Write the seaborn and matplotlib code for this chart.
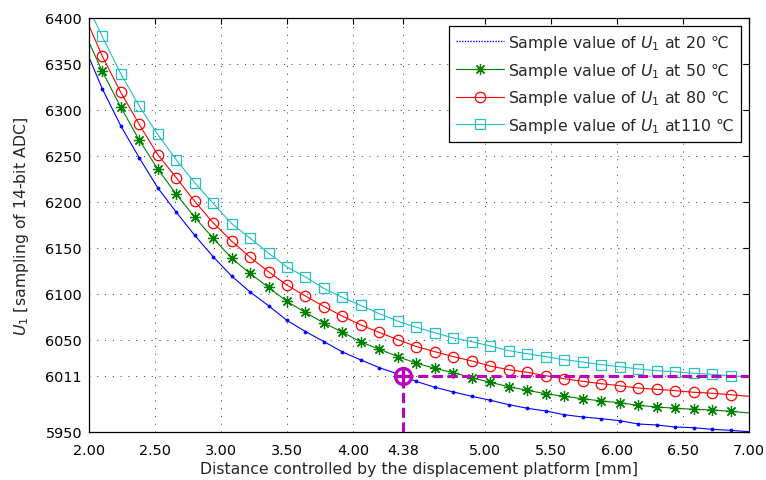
import matplotlib
matplotlib.use("Agg")
import matplotlib.pyplot as plt
import seaborn as sns
from matplotlib.lines import Line2D
from matplotlib.ticker import FormatStrFormatter

# Sample positions of the displacement platform [mm]
distance_mm = [2.10, 2.24, 2.38, 2.52, 2.66, 2.80, 2.94, 3.08, 3.22, 3.36,
               3.50, 3.64, 3.78, 3.92, 4.06, 4.20, 4.34, 4.48, 4.62, 4.76,
               4.90, 5.04, 5.18, 5.32, 5.46, 5.60, 5.74, 5.88, 6.02, 6.16,
               6.30, 6.44, 6.58, 6.72, 6.86]

# ADC readings of U1 at the sample positions
u1_20c = [6323.2, 6283.0, 6248.2, 6215.6, 6189.1, 6163.9, 6140.6, 6119.6, 6102.2, 6087.3,
          6071.2, 6059.2, 6048.2, 6037.0, 6028.3, 6019.9, 6013.0, 6004.9, 5998.6, 5993.5,
          5988.8, 5984.5, 5979.7, 5975.8, 5972.8, 5968.8, 5966.3, 5964.5, 5962.3, 5958.7,
          5957.6, 5955.4, 5954.7, 5952.9, 5951.8]
u1_50c = [6342.1, 6303.3, 6267.4, 6235.9, 6208.7, 6183.5, 6160.7, 6139.1, 6122.3, 6107.1,
          6091.9, 6079.9, 6068.4, 6058.5, 6047.8, 6039.9, 6031.9, 6024.8, 6019.2, 6014.5,
          6009.0, 6004.0, 5999.2, 5995.3, 5991.6, 5988.8, 5986.2, 5983.7, 5981.8, 5979.0,
          5977.2, 5975.8, 5974.7, 5973.9, 5972.5]
u1_80c = [6358.7, 6319.3, 6284.5, 6251.6, 6226.6, 6200.8, 6177.4, 6157.6, 6140.0, 6124.2,
          6109.6, 6097.8, 6086.4, 6075.9, 6066.3, 6058.2, 6050.3, 6042.9, 6037.3, 6031.9,
          6027.2, 6021.7, 6017.7, 6014.9, 6011.2, 6007.9, 6005.1, 6002.5, 6000.3, 5997.8,
          5996.4, 5994.9, 5993.2, 5992.1, 5990.5]
u1_110c = [6380.1, 6339.5, 6304.4, 6273.6, 6246.0, 6221.0, 6198.6, 6176.6, 6160.7, 6144.4,
           6129.4, 6118.5, 6106.0, 6096.2, 6087.5, 6078.6, 6070.4, 6063.9, 6057.9, 6052.2,
           6048.2, 6043.5, 6038.4, 6035.1, 6031.9, 6028.6, 6026.1, 6023.2, 6021.0, 6018.5,
           6016.6, 6015.5, 6013.8, 6012.7, 6011.0]

# Curve values at the ends of the platform travel
edge_distance_mm = [2.00, 7.00]
u1_20c_edges = [6357.3, 5950.3]
u1_50c_edges = [6373.6, 5970.7]
u1_80c_edges = [6391.6, 5988.8]
u1_110c_edges = [6410.0, 6010.0]

# Working point
mark_distance = 4.38
mark_u1 = 6011

x_ticks = [2.00, 2.50, 3.00, 3.50, 4.00, 4.38, 5.00, 5.50, 6.00, 6.50, 7.00]
y_ticks = [5950, 6011, 6050, 6100, 6150, 6200, 6250, 6300, 6350, 6400]

labels = ["Sample value of $U_1$ at 20 \u2103",
          "Sample value of $U_1$ at 50 \u2103",
          "Sample value of $U_1$ at 80 \u2103",
          "Sample value of $U_1$ at110 \u2103"]

sns.set_style("white")
plt.rcParams["font.family"] = ["DejaVu Sans"]
plt.rcParams["mathtext.fontset"] = "dejavusans"

fig = plt.figure(figsize=(7.66, 4.81), dpi=100)
ax = fig.add_axes([0.1162, 0.0998, 0.8616, 0.8607])

c20, c50, c80, c110 = "#0000ff", "#008000", "#ff0000", "#22c0c0"
series = [
    (u1_20c, u1_20c_edges, dict(color=c20, marker=".", markersize=4,
                                markerfacecolor=c20, markeredgecolor=c20)),
    (u1_50c, u1_50c_edges, dict(color=c50, marker=(8, 2, 0), markersize=8,
                                markerfacecolor=c50, markeredgecolor=c50,
                                markeredgewidth=0.9)),
    (u1_80c, u1_80c_edges, dict(color=c80, marker="o", markersize=7.5,
                                markerfacecolor="none", markeredgecolor=c80,
                                markeredgewidth=0.9)),
    (u1_110c, u1_110c_edges, dict(color=c110, marker="s", markersize=6.8,
                                  markerfacecolor="none", markeredgecolor=c110,
                                  markeredgewidth=0.9)),
]

n = len(distance_mm)
for values, edges, style in series:
    xs = [edge_distance_mm[0]] + distance_mm + [edge_distance_mm[1]]
    ys = [edges[0]] + values + [edges[1]]
    sns.lineplot(x=xs, y=ys, ax=ax, linewidth=0.8, markevery=list(range(1, n + 1)),
                 **style)

# Working-point guides
mag = "#c000c0"
ax.plot([mark_distance, edge_distance_mm[1]], [mark_u1, mark_u1], color=mag,
        linewidth=2.2, dashes=(3.3, 1.5), zorder=4)
ax.plot([mark_distance, mark_distance], [y_ticks[0], mark_u1], color=mag,
        linewidth=2.2, dashes=(3.3, 1.5), zorder=4)
ax.plot([mark_distance], [mark_u1], marker="o", markersize=11.5, markerfacecolor="white",
        markeredgecolor=mag, markeredgewidth=2.3, zorder=5)
ax.plot([mark_distance], [mark_u1], marker="+", markersize=11.5,
        markeredgecolor=mag, markeredgewidth=2.3, zorder=6)

ax.set_xlim(2.0, 7.0)
ax.set_ylim(5950, 6400)
ax.set_xticks(x_ticks)
ax.set_yticks(y_ticks)
ax.xaxis.set_major_formatter(FormatStrFormatter("%.2f"))
ax.tick_params(direction="in", length=4, width=0.8, top=True, right=True,
               labelsize=10.4, colors="black")
ax.tick_params(axis="x", pad=8)
ax.tick_params(axis="y", pad=5)
ax.grid(True, linestyle=(0, (1, 7)), linewidth=0.7, color="#303030")
for s in ax.spines.values():
    s.set_color("black")
    s.set_linewidth(0.9)

ax.set_xlabel("Distance controlled by the displacement platform [mm]", fontsize=11.3,
              labelpad=3)
ax.set_ylabel("$U_1$ [sampling of 14-bit ADC]", fontsize=11.3, labelpad=10)

handles = [
    Line2D([], [], color=c20, linewidth=1.0, linestyle=(0, (1, 1))),
    Line2D([], [], color=c50, linewidth=0.8, marker=(8, 2, 0), markersize=8,
           markeredgecolor=c50, markeredgewidth=0.9),
    Line2D([], [], color=c80, linewidth=0.8, marker="o", markersize=7.5,
           markerfacecolor="none", markeredgecolor=c80, markeredgewidth=0.9),
    Line2D([], [], color=c110, linewidth=0.8, marker="s", markersize=6.8,
           markerfacecolor="none", markeredgecolor=c110, markeredgewidth=0.9),
]
leg = ax.legend(handles, labels, loc="upper right", fontsize=11.3, frameon=True,
                fancybox=False, edgecolor="black", framealpha=1, handlelength=3.0,
                handletextpad=0.3, labelspacing=0.55, borderpad=0.45,
                borderaxespad=0.5)
leg.get_frame().set_linewidth(0.9)

fig.savefig("out.png", dpi=100)
